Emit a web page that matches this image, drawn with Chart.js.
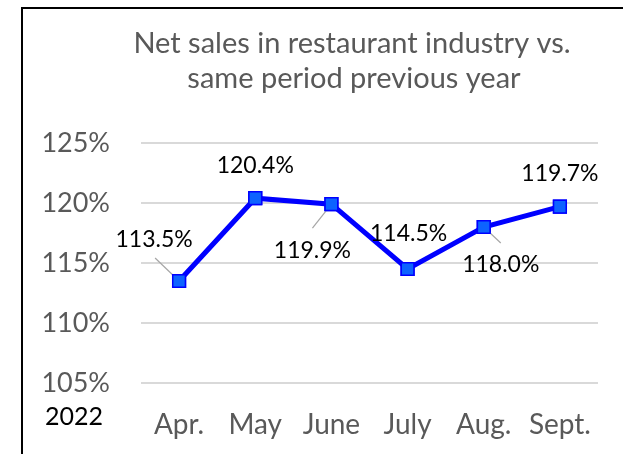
<!DOCTYPE html>
<html>
<head>
<meta charset="utf-8">
<script src="https://cdn.jsdelivr.net/npm/chart.js@4"></script>
<style>
  html, body { margin: 0; padding: 0; background: #fff; }
  #wrap { position: relative; width: 623px; height: 454px; overflow: hidden; }
  #frame { position: absolute; left: 21px; top: 7px; width: 700px; height: 600px;
           border-left: 2px solid #000; border-top: 2px solid #000; }
  canvas { position: absolute; left: 0; top: 0; }
</style>
</head>
<body>
<div id="wrap">
  <div id="frame"></div>
  <canvas id="salesChart" width="623" height="454"></canvas>
</div>
<script>
// data
const months = ['Apr.', 'May', 'June', 'July', 'Aug.', 'Sept.'];
const netSales = [113.5, 120.4, 119.9, 114.5, 118.0, 119.7];
const yTicks = [105, 110, 115, 120, 125];
const titleLines = ['Net sales in restaurant industry vs.', 'same period previous year'];
const yearLabel = '2022';

// label offsets from each point [dx, dy, leaderDx, leaderDy]
const labelOffsets = [
  [-25, -41, -24, -23],
  [0, -33, null, null],
  [-19, 46, -19, 24],
  [1, -35, null, null],
  [17, 38, 17, 16],
  [0, -33, null, null]
];

const fontFam = "Lato, 'Open Sans', sans-serif";

const extrasPlugin = {
  id: 'extras',
  afterDraw(chart) {
    const ctx = chart.ctx;
    ctx.save();
    // title
    ctx.fillStyle = '#595959';
    ctx.font = '29px ' + fontFam;
    ctx.textAlign = 'center';
    ctx.textBaseline = 'alphabetic';
    ctx.fillText(titleLines[0], 352, 53);
    ctx.fillText(titleLines[1], 354, 88);
    // year
    ctx.fillStyle = '#000';
    ctx.font = '25px ' + fontFam;
    ctx.textAlign = 'left';
    ctx.fillText(yearLabel, 45, 425);
    // data labels
    const meta = chart.getDatasetMeta(0);
    ctx.font = '23px ' + fontFam;
    ctx.textAlign = 'center';
    ctx.textBaseline = 'middle';
    meta.data.forEach((pt, i) => {
      const off = labelOffsets[i];
      if (off[2] !== null) {
        ctx.strokeStyle = '#a6a6a6';
        ctx.lineWidth = 1.2;
        ctx.beginPath();
        ctx.moveTo(pt.x, pt.y);
        ctx.lineTo(pt.x + off[2], pt.y + off[3]);
        ctx.stroke();
      }
      ctx.fillStyle = '#000';
      ctx.fillText(netSales[i].toFixed(1) + '%', pt.x + off[0], pt.y + off[1]);
    });
    ctx.restore();
  }
};

// keep markers above leader lines: redraw points after labels
const pointsOnTop = {
  id: 'pointsOnTop',
  afterDraw(chart) {
    const meta = chart.getDatasetMeta(0);
    meta.data.forEach(p => p.draw(chart.ctx, chart.chartArea));
  }
};

new Chart(document.getElementById('salesChart'), {
  type: 'line',
  data: {
    labels: months,
    datasets: [{
      data: netSales,
      borderColor: '#0000ff',
      borderWidth: 5,
      tension: 0,
      pointStyle: 'rect',
      pointRadius: 9,
      pointBackgroundColor: '#0d63ff',
      pointBorderColor: '#0000ff',
      pointBorderWidth: 1.5
    }]
  },
  options: {
    responsive: false,
    animation: false,
    layout: { padding: { top: 143, right: 25, left: 0, bottom: 0 } },
    plugins: { legend: { display: false }, tooltip: { enabled: false }, title: { display: false } },
    scales: {
      x: {
        offset: true,
        grid: { display: false },
        border: { display: false },
        ticks: { color: '#595959', font: { family: fontFam, size: 28 }, padding: 17 },
        afterFit: (s) => { s.height = 71; }
      },
      y: {
        min: 105,
        max: 125,
        afterBuildTicks: (s) => { s.ticks = yTicks.map(v => ({ value: v })); },
        grid: { color: '#d9d9d9', lineWidth: 2, drawTicks: false },
        border: { display: false },
        ticks: {
          color: '#595959',
          font: { family: fontFam, size: 27 },
          padding: 31,
          callback: (v) => v + '%'
        },
        afterFit: (s) => { s.width = 141; }
      }
    }
  },
  plugins: [extrasPlugin, pointsOnTop]
});
</script>
</body>
</html>
